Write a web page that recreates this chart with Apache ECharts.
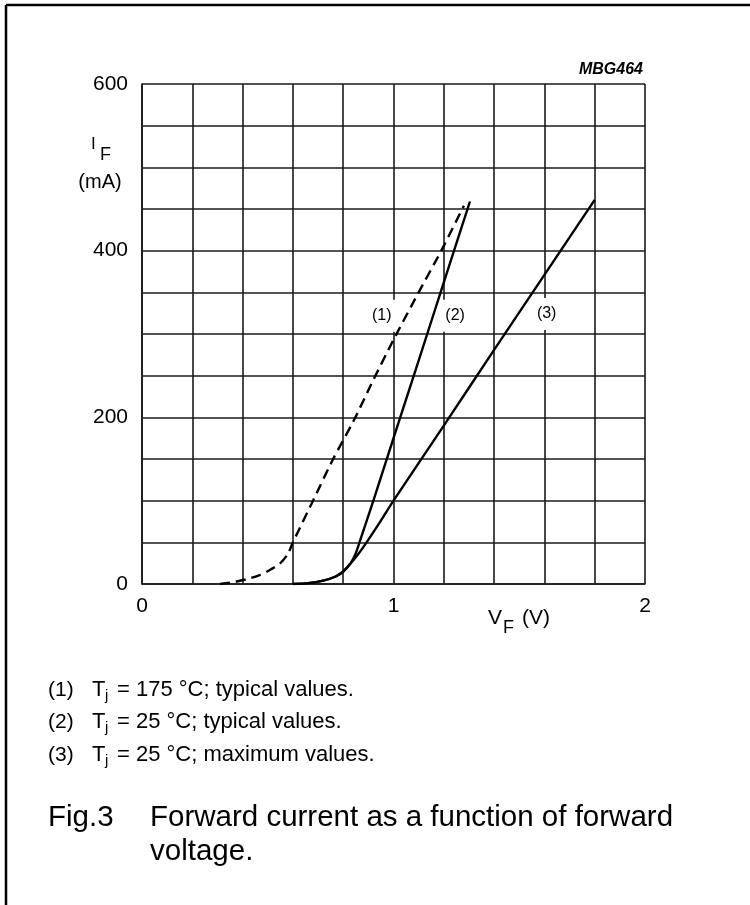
<!DOCTYPE html>
<html lang="en">
<head>
    <meta charset="UTF-8">
    <title>Forward current as a function of forward voltage</title>
    <script src="https://cdn.jsdelivr.net/npm/echarts@6/dist/echarts.min.js"></script>
    <style>
        html, body { margin: 0; padding: 0; background: #fff; }
        #chart { width: 750px; height: 905px; }
    </style>
</head>
<body>
    <div id="chart"></div>
<script>
    // VF (V) / IF (mA)
    var curve1V = [0.31, 0.36, 0.42, 0.47, 0.51, 0.55, 0.58, 0.60, 0.68, 0.76, 0.84, 0.92, 1.00, 1.10, 1.19, 1.28];
    var curve1I = [0, 2, 6, 11, 17, 25, 36, 50, 100, 150, 195, 245, 293, 350, 400, 454];

    var curve2V = [0.60, 0.66, 0.72, 0.77, 0.80, 0.83, 0.85, 0.867, 0.92, 1.00, 1.10, 1.20, 1.304];
    var curve2I = [0, 1, 4, 9, 15, 25, 37, 52, 100, 175, 268, 362, 459];

    var curve3V = [0.60, 0.66, 0.72, 0.77, 0.80, 0.83, 0.86, 0.893, 0.95, 1.00, 1.20, 1.40, 1.60, 1.80];
    var curve3I = [0, 1, 4, 9, 15, 25, 36, 50, 76, 100, 190, 281, 371, 461];

    // curve tags
    var tagNames = ['(1)', '(2)', '(3)'];
    var tagV = [0.953, 1.245, 1.609];
    var tagI = [322, 322, 324];

    var xTickLabels = ['0', '1', '2'];
    var yTickLabels = ['0', '200', '400', '600'];

    var notes = [
        ['(1)', '= 175 °C; typical values.'],
        ['(2)', '= 25 °C; typical values.'],
        ['(3)', '= 25 °C; maximum values.']
    ];

    var FONT = '"Liberation Sans", Arial, sans-serif';

    function pairs(xs, ys) {
        var res = [];
        for (var i = 0; i < xs.length; i++) {
            res.push([xs[i], ys[i]]);
        }
        return res;
    }

    function txt(x, y, s, size, extra) {
        var st = {
            text: s,
            fill: '#000',
            font: (extra && extra.font) || (size + 'px ' + FONT),
            textAlign: (extra && extra.align) || 'left',
            textVerticalAlign: 'middle'
        };
        return { type: 'text', x: x, y: y, style: st, silent: true };
    }

    var graphics = [
        // frame of the figure (left and top only)
        { type: 'line', shape: { x1: 6, y1: 5, x2: 750, y2: 5 }, style: { stroke: '#000', lineWidth: 2.5 }, silent: true },
        { type: 'line', shape: { x1: 6, y1: 5, x2: 6, y2: 905 }, style: { stroke: '#000', lineWidth: 2.5 }, silent: true },
        txt(643, 70, 'MBG464', 16, { font: 'italic bold 16px ' + FONT, align: 'right' }),
        // y axis name
        txt(91, 144, 'I', 17),
        txt(100, 155, 'F', 18),
        txt(100, 182, '(mA)', 20, { align: 'center' }),
        // x axis name
        txt(488, 618, 'V', 21),
        txt(503, 628, 'F', 18),
        txt(522, 618, '(V)', 21),
        // caption
        txt(48, 818, 'Fig.3', 29.5),
        txt(150, 818, 'Forward current as a function of forward', 29.5),
        txt(150, 852, 'voltage.', 29.5)
    ];

    var noteY = [690, 722, 755];
    for (var n = 0; n < notes.length; n++) {
        graphics.push(txt(48, noteY[n], notes[n][0], 21));
        graphics.push(txt(92, noteY[n], 'T', 22));
        graphics.push(txt(105, noteY[n] + 6, 'j', 15));
        graphics.push(txt(117, noteY[n], notes[n][1], 22));
    }

    var gridLine = { show: true, lineStyle: { color: '#1a1a1a', width: 1.6 } };

    var option = {
        animation: false,
        backgroundColor: '#fff',
        textStyle: { fontFamily: FONT },
        grid: {
            left: 142, top: 84, width: 503, height: 500,
            containLabel: false,
            outerBoundsMode: 'none'
        },
        xAxis: {
            type: 'value',
            min: 0, max: 2, interval: 0.2,
            axisLine: { show: true, lineStyle: { color: '#1a1a1a', width: 1.6 } },
            axisTick: { show: false },
            splitLine: gridLine,
            axisLabel: {
                color: '#000', fontSize: 21, fontFamily: FONT, margin: 12,
                showMinLabel: true, showMaxLabel: true,
                formatter: function (v) {
                    var r = Math.round(v);
                    return Math.abs(v - r) < 1e-6 && xTickLabels.indexOf(String(r)) >= 0 ? String(r) : '';
                }
            }
        },
        yAxis: {
            type: 'value',
            min: 0, max: 600, interval: 50,
            axisLine: { show: true, lineStyle: { color: '#1a1a1a', width: 1.6 } },
            axisTick: { show: false },
            splitLine: gridLine,
            axisLabel: {
                color: '#000', fontSize: 21, fontFamily: FONT, margin: 14,
                showMinLabel: true, showMaxLabel: true,
                formatter: function (v) {
                    return yTickLabels.indexOf(String(v)) >= 0 ? String(v) : '';
                }
            }
        },
        graphic: graphics,
        series: [
            {
                name: '(1)', type: 'line', data: pairs(curve1V, curve1I),
                showSymbol: false, smooth: 0.25, silent: true,
                lineStyle: { color: '#000', width: 2.4, type: [10, 6] }
            },
            {
                name: '(2)', type: 'line', data: pairs(curve2V, curve2I),
                showSymbol: false, smooth: 0.25, silent: true,
                lineStyle: { color: '#000', width: 2.4 }
            },
            {
                name: '(3)', type: 'line', data: pairs(curve3V, curve3I),
                showSymbol: false, smooth: 0.25, silent: true,
                lineStyle: { color: '#000', width: 2.4 }
            },
            {
                type: 'scatter', silent: true, z: 5,
                symbolSize: 0,
                itemStyle: { color: '#fff', opacity: 1 },
                data: tagNames.map(function (t, i) { return { name: t, value: [tagV[i], tagI[i]] }; }),
                label: {
                    show: true, position: 'inside',
                    formatter: '{b}', color: '#000', fontSize: 16, fontFamily: FONT,
                    textBorderWidth: 0, opacity: 1,
                    backgroundColor: '#fff', padding: [8, 4]
                }
            }
        ]
    };

    var myChart = echarts.init(document.getElementById('chart'));
    myChart.setOption(option);
</script>
</body>
</html>
